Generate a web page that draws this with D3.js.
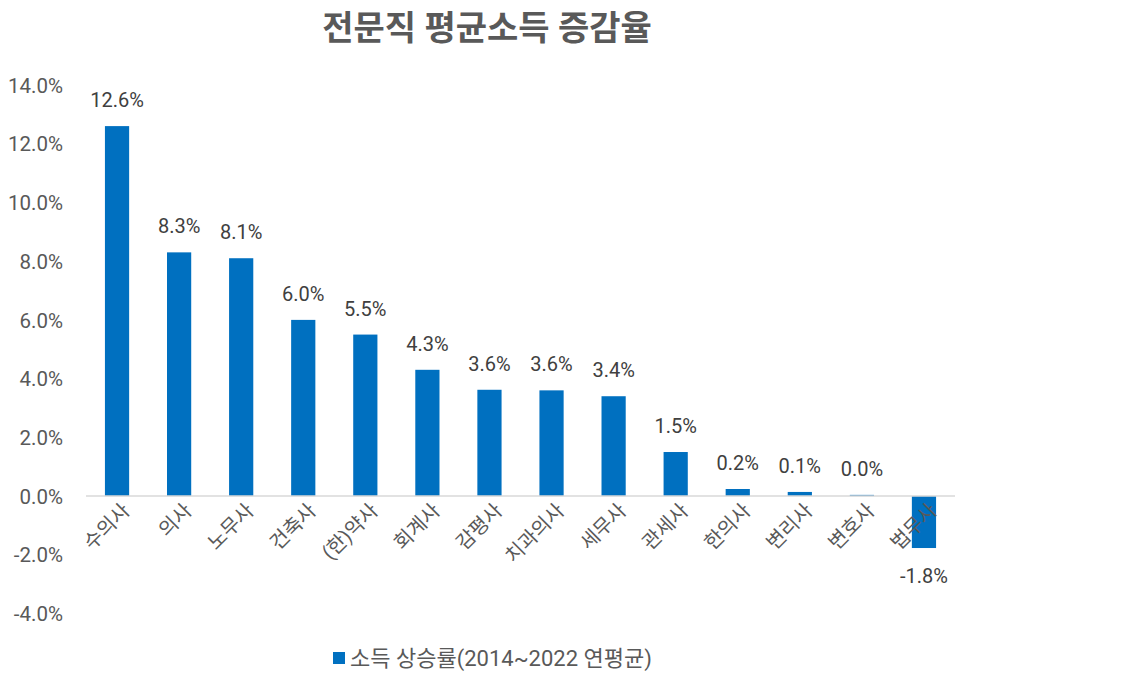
<!DOCTYPE html>
<html><head><meta charset="utf-8">
<script src="https://cdn.jsdelivr.net/npm/d3@7"></script>
<style>body{margin:0;background:#fff;} text{font-family:Roboto,"Noto Sans CJK KR",sans-serif;}</style>
</head><body>
<svg id="c" width="1147" height="676"></svg>
<script>
const categories = ["수의사","의사","노무사","건축사","(한)약사","회계사","감평사","치과의사","세무사","관세사","한의사","변리사","변호사","법무사"];
const values = [12.6,8.3,8.1,6.0,5.5,4.3,3.62,3.6,3.4,1.5,0.24,0.14,0.04,-1.77];
const yTicks = [-4,-2,0,2,4,6,8,10,12,14];
const title = "전문직 평균소득 증감율";
const seriesName = "소득 상승률(2014~2022 연평균)";

const pct = d => d3.format(".1f")(d).replace("\u2212","-") + "%";
const svg = d3.select("#c");
const x = d3.scaleBand().domain(categories).range([86,955]).paddingInner(0.61).paddingOuter(0.305);
const y = d3.scaleLinear().domain([-4,14]).range([613.5,85]);

svg.append("text").attr("x",487).attr("y",40).attr("text-anchor","middle")
  .attr("font-size",34).attr("font-weight","bold").attr("fill","#595959").text(title);

const yAxis = svg.append("g").attr("transform","translate(66,0)")
  .call(d3.axisLeft(y).tickValues(yTicks).tickSize(0).tickFormat(pct));
yAxis.select(".domain").remove();
yAxis.selectAll("text").attr("font-size",20.5).attr("fill","#595959").attr("dy","0.35em")
  .style("font-family","Roboto,'Noto Sans CJK KR',sans-serif");

svg.selectAll("rect.bar").data(values).join("rect").attr("class","bar")
  .attr("x",(d,i)=>x(categories[i])).attr("width",x.bandwidth())
  .attr("y",d=>y(Math.max(0,d))).attr("height",d=>Math.abs(y(d)-y(0)))
  .attr("fill","#0070C0");

svg.append("line").attr("x1",86).attr("x2",955).attr("y1",y(0)).attr("y2",y(0))
  .attr("stroke","#d9d9d9").attr("stroke-width",1.5);

svg.selectAll("text.val").data(values).join("text").attr("class","val")
  .attr("x",(d,i)=>x(categories[i])+x.bandwidth()/2)
  .attr("y",d=> d>=0 ? y(d)-19 : y(d)+35)
  .attr("text-anchor","middle").attr("font-size",20).attr("fill","#404040")
  .text(pct);

svg.selectAll("text.cat").data(categories).join("text").attr("class","cat")
  .attr("transform",d=>`translate(${x(d)+x.bandwidth()/2+9},${y(0)+11}) rotate(-45)`)
  .attr("text-anchor","end").attr("dy","0.35em").attr("font-size",20).attr("fill","#595959")
  .text(d=>d);

const lg = svg.append("g").attr("transform","translate(333,652)");
lg.append("rect").attr("width",12).attr("height",12).attr("fill","#0070C0");
lg.append("text").attr("x",17).attr("y",6).attr("dy","0.35em").attr("font-size",22).attr("fill","#595959").text(seriesName);
</script>
</body></html>
